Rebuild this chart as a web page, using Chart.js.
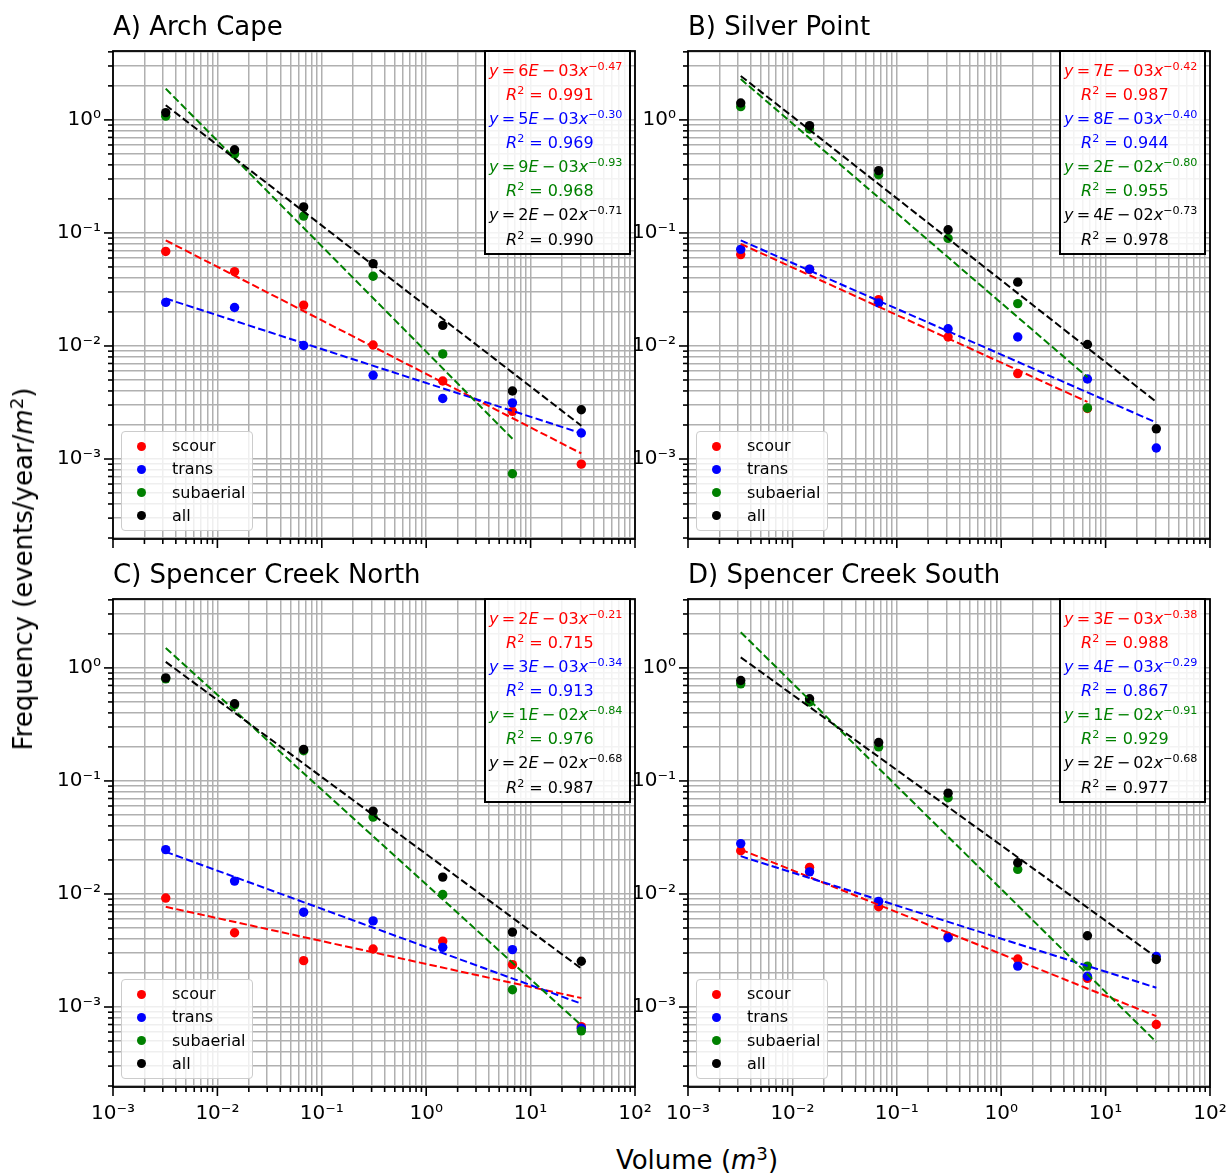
<!DOCTYPE html>
<html lang="en">
<head>
<meta charset="UTF-8" />
<title>Rockfall frequency vs volume</title>
<script src="https://cdn.jsdelivr.net/npm/chart.js"></script>
<style>
  body { margin: 0; background: #fff; font-family: 'DejaVu Sans', sans-serif; color: #000; }
  #fig { position: relative; width: 1231px; height: 1175px; overflow: hidden; }
  canvas { position: absolute; }
  .title { position: absolute; font-size: 26px; line-height: 26px; white-space: nowrap; }
  .axlabel { position: absolute; font-size: 26px; line-height: 30px; white-space: nowrap; }
  sup { font-size: 0.7em; vertical-align: 0.5em; line-height: 0; }
  .legend { position: absolute; width: 132px; height: 100px; box-sizing: border-box;
    border: 1px solid #cccccc; border-radius: 4px; background: rgba(255,255,255,0.8); }
  .legend .row { position: absolute; left: 0; height: 22px; line-height: 22px; font-size: 16px; white-space: nowrap; }
  .legend .dot { position: absolute; width: 9px; height: 9px; border-radius: 50%; top: 6.5px; left: 15px; }
  .legend .txt { position: absolute; left: 50px; }
  .eqbox { position: absolute; width: 147px; height: 205px; box-sizing: border-box;
    border: 2px solid #000; background: rgba(255,255,255,0.85); }
  .eqbox .row { position: absolute; left: 3px; height: 24px; line-height: 24px; font-size: 16px; white-space: nowrap; }
  .eqbox .r2 { left: 20px; }
</style>
</head>
<body>
<div id="fig"></div>

<script>
  // bin centres (m^3), shared by every site
  const volumes = [0.0032, 0.0146, 0.067, 0.31, 1.44, 6.7, 30.6];
  const seriesNames = ['scour', 'trans', 'subaerial', 'all'];
  const seriesColors = ['#ff0000', '#0000ff', '#008000', '#000000'];

  // A) Arch Cape
  const archCapeFreq = [
    [0.0686, 0.0455, 0.0230, 0.0102, 0.0049, 0.00264, 0.0009],
    [0.0243, 0.0219, 0.0101, 0.0055, 0.00343, 0.00314, 0.0017],
    [1.08, 0.50, 0.141, 0.0414, 0.0085, 0.00074, null],
    [1.16, 0.545, 0.170, 0.0535, 0.0152, 0.0040, 0.00273]
  ];
  const archCapeFitStart = [0.086, 0.0263, 1.89, 1.35];
  const archCapeFitEnd = [0.00112, 0.00169, 0.00151, 0.00197];
  const archCapeFitLast = [6, 6, 5, 6];
  const archCapeCoef = [6e-3, 5e-3, 9e-3, 2e-2];
  const archCapeExpo = [-0.47, -0.30, -0.93, -0.71];
  const archCapeR2 = [0.991, 0.969, 0.968, 0.990];

  // B) Silver Point
  const silverPointFreq = [
    [0.0643, 0.0475, 0.0257, 0.0120, 0.0057, 0.0028, null],
    [0.0716, 0.0478, 0.0240, 0.0142, 0.0120, 0.0051, 0.00125],
    [1.31, 0.83, 0.327, 0.0895, 0.0237, 0.00283, null],
    [1.41, 0.89, 0.356, 0.1066, 0.0367, 0.0103, 0.00185]
  ];
  const silverPointFitStart = [0.080, 0.086, 2.30, 2.45];
  const silverPointFitEnd = [0.0032, 0.0021, 0.0053, 0.0032];
  const silverPointFitLast = [5, 6, 5, 6];
  const silverPointCoef = [7e-3, 8e-3, 2e-2, 4e-2];
  const silverPointExpo = [-0.42, -0.40, -0.80, -0.73];
  const silverPointR2 = [0.987, 0.944, 0.955, 0.978];

  // C) Spencer Creek North
  const creekNorthFreq = [
    [0.0092, 0.00454, 0.00257, 0.00326, 0.00383, 0.00237, 0.00067],
    [0.0247, 0.0130, 0.0069, 0.00578, 0.00337, 0.00322, 0.00065],
    [0.80, 0.47, 0.185, 0.0479, 0.0099, 0.00142, 0.000615],
    [0.817, 0.482, 0.190, 0.0541, 0.0141, 0.0046, 0.00254]
  ];
  const creekNorthFitStart = [0.0077, 0.0236, 1.50, 1.13];
  const creekNorthFitEnd = [0.0012, 0.00107, 0.00069, 0.00219];
  const creekNorthFitLast = [6, 6, 6, 6];
  const creekNorthCoef = [2e-3, 3e-3, 1e-2, 2e-2];
  const creekNorthExpo = [-0.21, -0.34, -0.84, -0.68];
  const creekNorthR2 = [0.715, 0.913, 0.976, 0.987];

  // D) Spencer Creek South
  const creekSouthFreq = [
    [0.0241, 0.0172, 0.0077, 0.0042, 0.00266, 0.00179, 0.0007],
    [0.0279, 0.0157, 0.0086, 0.0041, 0.0023, 0.00187, 0.0028],
    [0.723, 0.499, 0.200, 0.071, 0.0165, 0.0023, null],
    [0.774, 0.534, 0.219, 0.078, 0.0189, 0.00427, 0.00263]
  ];
  const creekSouthFitStart = [0.0247, 0.0216, 2.07, 1.24];
  const creekSouthFitEnd = [0.00083, 0.00148, 0.00049, 0.00275];
  const creekSouthFitLast = [6, 6, 6, 6];
  const creekSouthCoef = [3e-3, 4e-3, 1e-2, 2e-2];
  const creekSouthExpo = [-0.38, -0.29, -0.91, -0.68];
  const creekSouthR2 = [0.988, 0.867, 0.929, 0.977];

  const sites = [
    { title: 'A) Arch Cape', freq: archCapeFreq, fitStart: archCapeFitStart, fitEnd: archCapeFitEnd,
      fitLast: archCapeFitLast, coef: archCapeCoef, expo: archCapeExpo, r2: archCapeR2 },
    { title: 'B) Silver Point', freq: silverPointFreq, fitStart: silverPointFitStart, fitEnd: silverPointFitEnd,
      fitLast: silverPointFitLast, coef: silverPointCoef, expo: silverPointExpo, r2: silverPointR2 },
    { title: 'C) Spencer Creek North', freq: creekNorthFreq, fitStart: creekNorthFitStart, fitEnd: creekNorthFitEnd,
      fitLast: creekNorthFitLast, coef: creekNorthCoef, expo: creekNorthExpo, r2: creekNorthR2 },
    { title: 'D) Spencer Creek South', freq: creekSouthFreq, fitStart: creekSouthFitStart, fitEnd: creekSouthFitEnd,
      fitLast: creekSouthFitLast, coef: creekSouthCoef, expo: creekSouthExpo, r2: creekSouthR2 }
  ];

  // axes layout (plot area corners)
  const plotW = 522, plotH = 488;
  const plotPos = [[113, 51], [688, 51], [113, 599], [688, 599]];
  const padTop = 14, padRight = 30, yAxisW = 90, xAxisH = 50;
  const xRange = [1e-3, 1e2];
  const yRange = [1.96e-4, 4.07];

  const SUP = { '0': '⁰', '1': '¹', '2': '²', '3': '³', '4': '⁴', '5': '⁵', '6': '⁶', '7': '⁷', '8': '⁸', '9': '⁹', '-': '⁻' };
  const THIN = '\u2009';

  function isDecade(v) {
    const l = Math.log10(v);
    return Math.abs(l - Math.round(l)) < 1e-6;
  }

  function logTicks(min, max) {
    const out = [];
    for (let e = Math.floor(Math.log10(min)); e <= Math.ceil(Math.log10(max)); e++) {
      for (let k = 1; k <= 9; k++) {
        const v = k * Math.pow(10, e);
        if (v >= min * (1 - 1e-9) && v <= max * (1 + 1e-9)) out.push({ value: v });
      }
    }
    return out;
  }

  function decadeLabel(value) {
    if (!isDecade(value)) return '';
    const e = String(Math.round(Math.log10(value)));
    return '10' + e.split('').map(c => SUP[c]).join('');
  }

  // outward tick marks and the axes box
  const framePlugin = {
    id: 'frame',
    afterDraw(chart) {
      const { ctx, chartArea: a, scales } = chart;
      ctx.save();
      ctx.strokeStyle = '#000';
      ctx.lineWidth = 1.6;
      scales.x.ticks.forEach(t => {
        const px = scales.x.getPixelForValue(t.value);
        const len = isDecade(t.value) ? 9 : 5;
        ctx.beginPath();
        ctx.moveTo(px, a.bottom);
        ctx.lineTo(px, a.bottom + len);
        ctx.stroke();
      });
      scales.y.ticks.forEach(t => {
        const py = scales.y.getPixelForValue(t.value);
        const len = isDecade(t.value) ? 9 : 5;
        ctx.beginPath();
        ctx.moveTo(a.left, py);
        ctx.lineTo(a.left - len, py);
        ctx.stroke();
      });
      ctx.lineWidth = 1.8;
      ctx.strokeRect(a.left, a.top, a.right - a.left, a.bottom - a.top);
      ctx.restore();
    }
  };

  const tickFont = { family: 'DejaVu Sans', size: 20 };
  const fig = document.getElementById('fig');

  function coefText(c) {
    const e = Math.floor(Math.log10(c) + 1e-9);
    const m = Math.round(c / Math.pow(10, e));
    const sign = e < 0 ? '−' : '+';
    return m + '<i>E</i>' + THIN + sign + THIN + String(Math.abs(e)).padStart(2, '0');
  }

  function expoText(x) {
    return (x < 0 ? '−' : '') + Math.abs(x).toFixed(2);
  }

  sites.forEach((site, p) => {
    const [left, top] = plotPos[p];
    const showX = p >= 2;

    const datasets = [];
    for (let i = 0; i < 4; i++) {
      const last = site.fitLast[i];
      datasets.push({
        label: seriesNames[i] + ' fit',
        data: [{ x: volumes[0], y: site.fitStart[i] }, { x: volumes[last], y: site.fitEnd[i] }],
        showLine: true,
        borderColor: seriesColors[i],
        borderWidth: 2,
        borderDash: [7.5, 3.3],
        pointRadius: 0,
        order: 3 - i
      });
    }
    for (let i = 0; i < 4; i++) {
      const pts = [];
      site.freq[i].forEach((v, k) => { if (v !== null) pts.push({ x: volumes[k], y: v }); });
      datasets.push({
        label: seriesNames[i],
        data: pts,
        backgroundColor: seriesColors[i],
        borderWidth: 0,
        pointRadius: 4.7,
        pointHoverRadius: 4.7,
        order: 7 - i
      });
    }

    const canvas = document.createElement('canvas');
    canvas.width = yAxisW + plotW + padRight;
    canvas.height = padTop + plotH + xAxisH;
    canvas.style.left = (left - yAxisW) + 'px';
    canvas.style.top = (top - padTop) + 'px';
    fig.appendChild(canvas);

    new Chart(canvas, {
      type: 'scatter',
      data: { datasets },
      options: {
        responsive: false,
        animation: false,
        devicePixelRatio: 1,
        layout: { padding: { top: padTop, right: padRight, bottom: 0, left: 0 } },
        plugins: { legend: { display: false }, tooltip: { enabled: false } },
        scales: {
          x: {
            type: 'logarithmic',
            position: 'bottom',
            min: xRange[0],
            max: xRange[1],
            afterBuildTicks: s => { s.ticks = logTicks(s.min, s.max); },
            afterFit: s => { s.height = xAxisH; s.paddingLeft = 0; s.paddingRight = 0; },
            border: { display: false },
            grid: { color: '#b0b0b0', lineWidth: 1.5, drawTicks: false },
            ticks: {
              display: showX, autoSkip: false, maxRotation: 0, minRotation: 0,
              padding: 15, color: '#000', font: tickFont, callback: decadeLabel
            }
          },
          y: {
            type: 'logarithmic',
            position: 'left',
            min: yRange[0],
            max: yRange[1],
            afterBuildTicks: s => { s.ticks = logTicks(s.min, s.max); },
            afterFit: s => { s.width = yAxisW; s.paddingTop = 0; s.paddingBottom = 0; },
            border: { display: false },
            grid: { color: '#b0b0b0', lineWidth: 1.5, drawTicks: false },
            ticks: {
              autoSkip: false, padding: 12, color: '#000', font: tickFont, callback: decadeLabel
            }
          }
        }
      },
      plugins: [framePlugin]
    });

    // panel title
    const t = document.createElement('div');
    t.className = 'title';
    t.style.left = left + 'px';
    t.style.top = (top - 38) + 'px';
    t.textContent = site.title;
    fig.appendChild(t);

    // legend, lower left
    const lg = document.createElement('div');
    lg.className = 'legend';
    lg.style.left = (left + 8) + 'px';
    lg.style.top = (top + 380) + 'px';
    seriesNames.forEach((name, i) => {
      const row = document.createElement('div');
      row.className = 'row';
      row.style.top = (3 + 23.3 * i) + 'px';
      row.innerHTML = '<span class="dot" style="background:' + seriesColors[i] + '"></span>' +
        '<span class="txt">' + name + '</span>';
      lg.appendChild(row);
    });
    fig.appendChild(lg);

    // fit equations, upper right
    const eq = document.createElement('div');
    eq.className = 'eqbox';
    eq.style.left = (left + plotW - 4 - 147) + 'px';
    eq.style.top = (top - 1.5) + 'px';
    for (let i = 0; i < 4; i++) {
      const r1 = document.createElement('div');
      r1.className = 'row';
      r1.style.color = seriesColors[i];
      r1.style.top = (7 + 48.3 * i) + 'px';
      r1.innerHTML = '<i>y</i>' + THIN + '=' + THIN + coefText(site.coef[i]) +
        '<i>x</i><sup>' + expoText(site.expo[i]) + '</sup>';
      const r2 = document.createElement('div');
      r2.className = 'row r2';
      r2.style.color = seriesColors[i];
      r2.style.top = (7 + 48.3 * i + 24.15) + 'px';
      r2.innerHTML = '<i>R</i><sup>2</sup> = ' + site.r2[i].toFixed(3);
      eq.appendChild(r1);
      eq.appendChild(r2);
    }
    fig.appendChild(eq);
  });

  // shared axis titles
  const yl = document.createElement('div');
  yl.className = 'axlabel';
  yl.style.left = '23px';
  yl.style.top = '569px';
  yl.style.transform = 'translate(-50%, -50%) rotate(-90deg)';
  yl.innerHTML = 'Frequency (events/year/<i>m</i><sup>2</sup>)';
  fig.appendChild(yl);

  const xl = document.createElement('div');
  xl.className = 'axlabel';
  xl.style.left = '697px';
  xl.style.top = '1160px';
  xl.style.transform = 'translate(-50%, -50%)';
  xl.innerHTML = 'Volume (<i>m</i><sup>3</sup>)';
  fig.appendChild(xl);
</script>
</body>
</html>
